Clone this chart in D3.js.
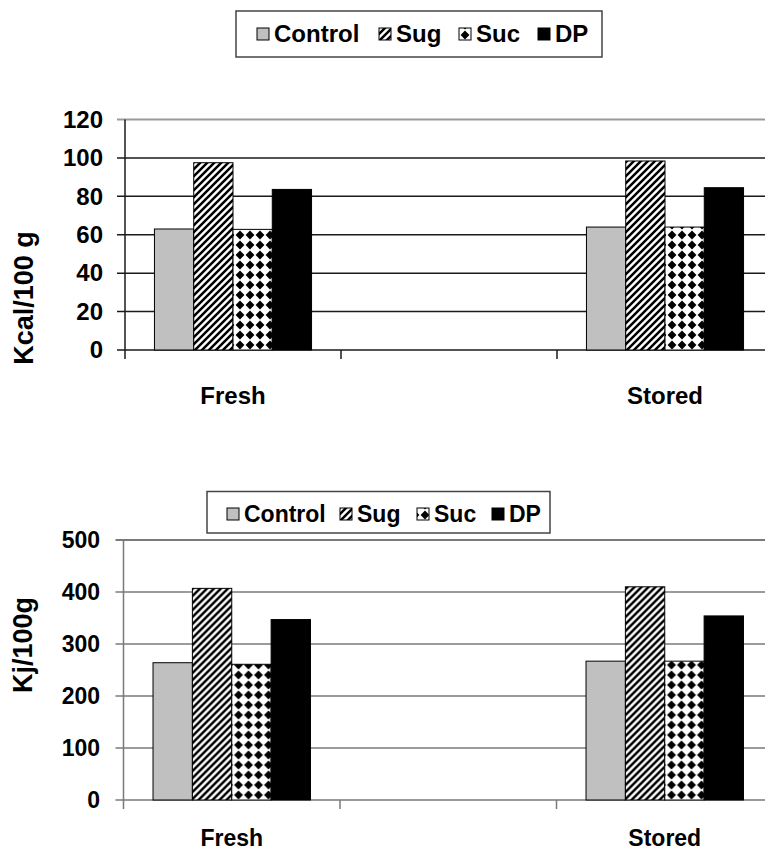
<!DOCTYPE html>
<html>
<head>
<meta charset="utf-8">
<script src="https://cdn.jsdelivr.net/npm/d3@7"></script>
<style>
  body { margin: 0; background: #fff; }
  text { font-family: "Liberation Sans", Arial, sans-serif; font-weight: bold; fill: #000; }
</style>
</head>
<body>
<div id="chart"></div>
<script>
// Data
const categories = ["Fresh", " ", "Stored"];
const series = ["Control", "Sug", "Suc", "DP"];
const kcalFresh = [63, 97.5, 62.8, 83.6];
const kcalStored = [64, 98.4, 64, 84.5];
const kjFresh = [264, 407, 261, 347];
const kjStored = [267, 410, 267, 354];
const kcalTicks = [0, 20, 40, 60, 80, 100, 120];
const kjTicks = [0, 100, 200, 300, 400, 500];

const w = 765, h = 852;
const svg = d3.select("#chart").append("svg").attr("width", w).attr("height", h);

// Patterns
const defs = svg.append("defs");
const hatch = defs.append("pattern")
    .attr("id", "hatch")
    .attr("patternUnits", "userSpaceOnUse")
    .attr("width", 7).attr("height", 7);
hatch.append("rect").attr("width", 7).attr("height", 7).attr("fill", "#fff");
hatch.append("path")
    .attr("d", "M-1,1 l2,-2 M0,7 l7,-7 M6,8 l2,-2")
    .attr("stroke", "#000")
    .attr("stroke-width", 2.5);
const dots = defs.append("pattern")
    .attr("id", "diamonds")
    .attr("patternUnits", "userSpaceOnUse")
    .attr("width", 10).attr("height", 10);
dots.append("rect").attr("width", 10).attr("height", 10).attr("fill", "#fff");
dots.append("path").attr("d", "M5,0.6 L9.4,5 L5,9.4 L0.6,5Z").attr("fill", "#000");

const fills = { Control: "#c0c0c0", Sug: "url(#hatch)", Suc: "url(#diamonds)", DP: "#000" };

function drawChart(o) {
    const g = svg.append("g");
    const x = d3.scaleBand().domain(categories).range([o.left, 773]);
    const xIn = d3.scaleBand().domain(series).range([0, x.bandwidth()]).paddingOuter(0.75);
    const y = d3.scaleLinear().domain([0, d3.max(o.ticks)]).range([o.bottom, o.top]);

    // grid lines + ticks
    g.selectAll(".grid")
        .data(o.ticks)
        .enter()
        .append("line")
        .attr("x1", o.left - 8).attr("x2", w)
        .attr("y1", d => y(d)).attr("y2", d => y(d))
        .attr("stroke", (d, i) => i === o.ticks.length - 1 ? o.topColor : o.gridColor)
        .attr("stroke-width", (d, i) => i === o.ticks.length - 1 ? 2 : 1.5);

    // y axis labels
    const yAxis = d3.axisLeft(y).tickValues(o.ticks).tickSize(0).tickPadding(o.left - o.labelX);
    g.append("g")
        .attr("transform", `translate(${o.left},0)`)
        .call(yAxis)
        .call(s => s.select(".domain").remove())
        .selectAll("text")
        .style("font-size", o.font + "px")
        .style("font-family", "'Liberation Sans', Arial, sans-serif")
        .style("font-weight", "bold")
        .attr("fill", "#000");

    // bars
    const groups = [
        { cat: "Fresh", vals: o.fresh },
        { cat: "Stored", vals: o.stored }
    ];
    g.selectAll(".grp")
        .data(groups)
        .enter()
        .append("g")
        .attr("transform", d => `translate(${x(d.cat)},0)`)
        .selectAll("rect")
        .data(d => d.vals.map((v, i) => ({ key: series[i], v })))
        .enter()
        .append("rect")
        .attr("x", d => xIn(d.key))
        .attr("y", d => y(d.v))
        .attr("width", xIn.bandwidth())
        .attr("height", d => y(0) - y(d.v))
        .attr("fill", d => fills[d.key])
        .attr("stroke", "#000")
        .attr("stroke-width", 1);

    // y axis line and category ticks
    g.append("line")
        .attr("x1", o.left).attr("x2", o.left)
        .attr("y1", y(d3.max(o.ticks))).attr("y2", y(0) + 9)
        .attr("stroke", o.gridColor).attr("stroke-width", 1.5);
    g.selectAll(".ctick")
        .data(categories.slice(1))
        .enter()
        .append("line")
        .attr("x1", d => x(d)).attr("x2", d => x(d))
        .attr("y1", y(0)).attr("y2", y(0) + 9)
        .attr("stroke", o.gridColor).attr("stroke-width", 1.5);

    // category labels
    g.selectAll(".clabel")
        .data(["Fresh", "Stored"])
        .enter()
        .append("text")
        .attr("x", d => x(d) + x.bandwidth() / 2)
        .attr("y", o.catY)
        .attr("text-anchor", "middle")
        .style("font-size", o.font + "px")
        .text(d => d);

    // y title
    g.append("text")
        .attr("transform", `translate(${o.titleX},${o.titleY}) rotate(-90)`)
        .attr("text-anchor", "middle")
        .style("font-size", "27px")
        .text(o.title);

    // legend
    const lg = g.append("g");
    lg.append("rect")
        .attr("x", o.legend.x).attr("y", o.legend.y)
        .attr("width", o.legend.w).attr("height", o.legend.h)
        .attr("fill", "#fff").attr("stroke", "#444").attr("stroke-width", 1.5);
    series.forEach((s, i) => {
        lg.append("rect")
            .attr("x", o.legend.items[i]).attr("y", o.legend.sqY)
            .attr("width", 12).attr("height", 12)
            .attr("fill", fills[s]).attr("stroke", "#000").attr("stroke-width", 1);
        lg.append("text")
            .attr("x", o.legend.items[i] + 17).attr("y", o.legend.base)
            .style("font-size", o.font + "px")
            .text(s);
    });
}

drawChart({
    left: 125, top: 119.5, bottom: 350, labelX: 103, font: 24,
    ticks: kcalTicks, fresh: kcalFresh, stored: kcalStored,
    gridColor: "#1a1a1a", topColor: "#9a9a9a",
    catY: 404, title: "Kcal/100 g", titleX: 33, titleY: 298,
    legend: { x: 236, y: 11, w: 366, h: 46, sqY: 28, base: 42, items: [257, 379, 459, 538] }
});

drawChart({
    left: 123.5, top: 540, bottom: 800, labelX: 100, font: 23,
    ticks: kjTicks, fresh: kjFresh, stored: kjStored,
    gridColor: "#7a7a7a", topColor: "#7a7a7a",
    catY: 846, title: "Kj/100g", titleX: 32, titleY: 645,
    legend: { x: 207, y: 491.5, w: 343, h: 41.5, sqY: 508, base: 522, items: [227, 340, 417, 492] }
});
</script>
</body>
</html>
